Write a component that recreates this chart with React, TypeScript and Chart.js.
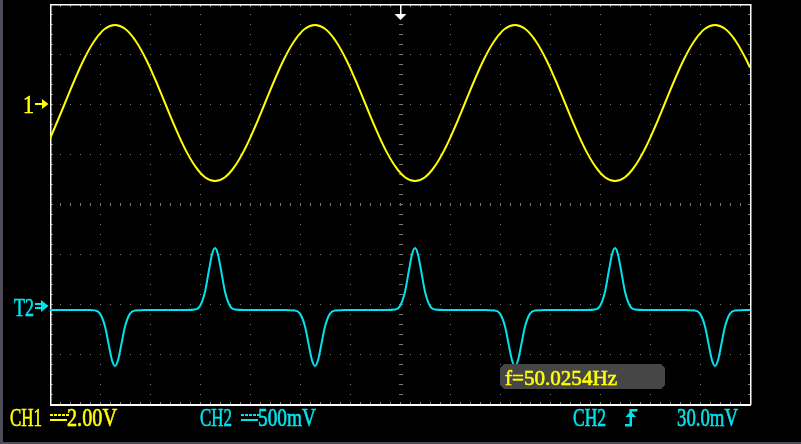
import React, { useEffect, useRef } from "react";
import { Chart, registerables } from "chart.js";

Chart.register(...registerables);

// CH1 (yellow) samples: time in ms, value in volts (2.00 V/div, 5 ms/div)
const ch1Time = [
  -35, -34.5, -33.5, -32.5, -31.5, -30.5, -29.5, -28.5, -27.5, -26.5, -25.5, -24.5, -23.5, -22.5, -21.5, -20.5, -19.5, -18.5, -17.5, -16.5, -15.5,
  -14.5, -13.5, -12.5, -11.5, -10.5, -9.5, -8.5, -7.5, -6.5, -5.5, -4.5, -3.5, -2.5, -1.5, -0.5, 0.5, 1.5, 2.5, 3.5, 4.5,
  5.5, 6.5, 7.5, 8.5, 9.5, 10.5, 11.5, 12.5, 13.5, 14.5, 15.5, 16.5, 17.5, 18.5, 19.5, 20.5, 21.5, 22.5, 23.5, 24.5,
  25.5, 26.5, 27.5, 28.5, 29.5, 30.5, 31.5, 32.5, 33.5, 34.5, 35,
];
const ch1Volts = [
  -1.38, -0.92, 0.04, 1.0, 1.87, 2.56, 3.01, 3.16, 3.01, 2.56, 1.87, 1.0, 0.04, -0.92, -1.79, -2.48, -2.93, -3.08, -2.93, -2.48, -1.79,
  -0.92, 0.04, 1.0, 1.87, 2.56, 3.01, 3.16, 3.01, 2.56, 1.87, 1.0, 0.04, -0.92, -1.79, -2.48, -2.93, -3.08, -2.93, -2.48, -1.79,
  -0.92, 0.04, 1.0, 1.87, 2.56, 3.01, 3.16, 3.01, 2.56, 1.87, 1.0, 0.04, -0.92, -1.79, -2.48, -2.93, -3.08, -2.93, -2.48, -1.79,
  -0.92, 0.04, 1.0, 1.87, 2.56, 3.01, 3.16, 3.01, 2.56, 1.87, 1.46,
];

// CH2 (cyan) samples: time in ms, value in millivolts (500 mV/div)
const ch2Time = [
  -35, -34, -33, -32, -31,
  -30.5, -30, -29.5, -29.1, -28.8, -28.5, -28.2, -27.9, -27.5, -27, -26.5,
  -25.5, -24.5, -23.5, -22.5, -21.5,
  -20.5, -20, -19.5, -19.1, -18.8, -18.5, -18.2, -17.9, -17.5, -17, -16.5,
  -15.5, -14.5, -13.5, -12.5, -11.5,
  -10.5, -10, -9.5, -9.1, -8.8, -8.5, -8.2, -7.9, -7.5, -7, -6.5,
  -5.5, -4.5, -3.5, -2.5, -1.5,
  -0.5, 0, 0.5, 0.9, 1.2, 1.5, 1.8, 2.1, 2.5, 3, 3.5,
  4.5, 5.5, 6.5, 7.5, 8.5,
  9.5, 10, 10.5, 10.9, 11.2, 11.5, 11.8, 12.1, 12.5, 13, 13.5,
  14.5, 15.5, 16.5, 17.5, 18.5,
  19.5, 20, 20.5, 20.9, 21.2, 21.5, 21.8, 22.1, 22.5, 23, 23.5,
  24.5, 25.5, 26.5, 27.5, 28.5,
  29.5, 30, 30.5, 30.9, 31.2, 31.5, 31.8, 32.1, 32.5, 33, 33.5,
  34.5, 35,
];
const ch2MilliVolts = [
  -40, -40, -40, -40, -40,
  -44, -76, -205, -401, -542, -600, -542, -401, -205, -76, -44,
  -40, -40, -40, -40, -40,
  -35, 0, 143, 360, 516, 580, 516, 360, 143, 0, -35,
  -40, -40, -40, -40, -40,
  -44, -76, -205, -401, -542, -600, -542, -401, -205, -76, -44,
  -40, -40, -40, -40, -40,
  -35, 0, 143, 360, 516, 580, 516, 360, 143, 0, -35,
  -40, -40, -40, -40, -40,
  -44, -76, -205, -401, -542, -600, -542, -401, -205, -76, -44,
  -40, -40, -40, -40, -40,
  -35, 0, 143, 360, 516, 580, 516, 360, 143, 0, -35,
  -40, -40, -40, -40, -40,
  -44, -76, -205, -401, -542, -600, -542, -401, -205, -76, -44,
  -40, -40,
];

const ch1Label = "CH1";
const ch1Scale = "2.00V";
const ch2Label = "CH2";
const ch2Scale = "500mV";
const trigSource = "CH2";
const trigLevel = "30.0mV";
const freqText = "f=50.0254Hz";

const CH1_VOLTS_PER_DIV = 2;
const CH1_OFFSET_DIV = 2;
const CH2_MV_PER_DIV = 500;
const CH2_OFFSET_DIV = -2.04;

const YELLOW = "#ffff00";
const CYAN = "#00e4ee";
const FONT = '"Liberation Serif", "DejaVu Serif", serif';

function fitText(ctx: CanvasRenderingContext2D, text: string, left: number, right: number, baseline: number, color: string, size: number) {
  ctx.save();
  ctx.font = `${size}px ${FONT}`;
  ctx.textAlign = "left";
  ctx.textBaseline = "alphabetic";
  const w = ctx.measureText(text).width;
  const sx = (right - left) / w;
  ctx.translate(left, baseline);
  ctx.scale(sx, 1);
  ctx.fillStyle = color;
  ctx.strokeStyle = color;
  ctx.lineWidth = 0.6;
  ctx.fillText(text, 0, 0);
  ctx.strokeText(text, 0, 0);
  ctx.restore();
}

const scopePlugin = {
  id: "scope",
  beforeDraw(chart: any) {
    const ctx: CanvasRenderingContext2D = chart.ctx;
    ctx.save();
    ctx.fillStyle = "#000000";
    ctx.fillRect(0, 0, chart.width, chart.height);
    ctx.fillStyle = "#4e4e5a";
    ctx.fillRect(0, 0, 3, chart.height);
    ctx.fillRect(0, chart.height - 2, chart.width, 2);
    ctx.restore();
  },
  beforeDatasetsDraw(chart: any) {
    const ctx: CanvasRenderingContext2D = chart.ctx;
    const { left, right, top, bottom } = chart.chartArea;
    const L = Math.round(left), R = Math.round(right), T = Math.round(top), B = Math.round(bottom);
    const cx = (L + R) / 2;
    const cy = (T + B) / 2;
    ctx.save();
    ctx.fillStyle = "#7a7a7a";
    for (let gx = L + 50; gx < R; gx += 50) {
      if (gx === cx) continue;
      for (let y = T + 10; y < B; y += 10) ctx.fillRect(gx, y, 1, 1);
    }
    for (let gy = T + 50; gy < B; gy += 50) {
      if (gy === cy) continue;
      for (let x = L + 10; x < R; x += 10) ctx.fillRect(x, gy, 1, 1);
    }
    for (let y = T + 10; y < B; y += 10) ctx.fillRect(cx - 1, y, 4, 1);
    for (let x = L + 10; x < R; x += 10) ctx.fillRect(x, cy - 1, 1, 3);
    for (let x = L + 10; x < R; x += 10) {
      ctx.fillRect(x, T + 1, 1, 2);
      ctx.fillRect(x, B - 2, 1, 2);
    }
    for (let y = T + 10; y < B; y += 10) {
      ctx.fillRect(L + 1, y, 2, 1);
      ctx.fillRect(R - 2, y, 2, 1);
    }
    ctx.fillStyle = "#ffffff";
    ctx.fillRect(L, T, R - L + 1, 1.5);
    ctx.fillRect(L, B, R - L + 1, 2);
    ctx.fillRect(L, T, 1.5, B - T + 1);
    ctx.fillRect(R, T, 1.5, B - T + 1);
    ctx.restore();
  },
  afterDatasetsDraw(chart: any) {
    const ctx: CanvasRenderingContext2D = chart.ctx;
    const { left, right, top } = chart.chartArea;
    const yS = chart.scales.y;
    const cx = Math.round((left + right) / 2);
    ctx.save();

    ctx.fillStyle = "#ffffff";
    ctx.fillRect(cx, top, 1.5, 10);
    ctx.beginPath();
    ctx.moveTo(cx - 5.5, top + 10);
    ctx.lineTo(cx + 6.5, top + 10);
    ctx.lineTo(cx + 0.5, top + 16);
    ctx.closePath();
    ctx.fill();

    const y1 = yS.getPixelForValue(CH1_OFFSET_DIV);
    fitText(ctx, "1", 23, 34, y1 + 9, YELLOW, 25);
    ctx.fillStyle = YELLOW;
    ctx.fillRect(35, y1 - 1, 9, 2);
    ctx.beginPath();
    ctx.moveTo(42, y1 - 5);
    ctx.lineTo(48.5, y1);
    ctx.lineTo(42, y1 + 5);
    ctx.closePath();
    ctx.fill();

    const y2 = yS.getPixelForValue(CH2_OFFSET_DIV);
    fitText(ctx, "T2", 14, 34, y2 + 10, CYAN, 26);
    ctx.fillStyle = CYAN;
    ctx.fillRect(35, y2 - 3, 8, 2);
    ctx.fillRect(35, y2 + 1, 8, 2);
    ctx.beginPath();
    ctx.moveTo(41, y2 - 6);
    ctx.lineTo(48.5, y2);
    ctx.lineTo(41, y2 + 6);
    ctx.closePath();
    ctx.fill();

    const bx0 = 500, bx1 = 665, by0 = 364, by1 = 389, c = 4;
    ctx.fillStyle = "#464646";
    ctx.beginPath();
    ctx.moveTo(bx0 + c, by0);
    ctx.lineTo(bx1 - c, by0);
    ctx.lineTo(bx1, by0 + c);
    ctx.lineTo(bx1, by1 - c);
    ctx.lineTo(bx1 - c, by1);
    ctx.lineTo(bx0 + c, by1);
    ctx.lineTo(bx0, by1 - c);
    ctx.lineTo(bx0, by0 + c);
    ctx.closePath();
    ctx.fill();
    fitText(ctx, freqText, 505, 617, 385, YELLOW, 22);

    const base = 426;
    fitText(ctx, ch1Label, 10, 42, base, YELLOW, 25);
    ctx.fillStyle = YELLOW;
    for (let x = 50; x < 67; x += 4) ctx.fillRect(x, 414, 3, 2);
    ctx.fillRect(50, 419, 17, 2);
    fitText(ctx, ch1Scale, 67, 117, base, YELLOW, 25);

    fitText(ctx, ch2Label, 200, 232, base, CYAN, 25);
    ctx.fillStyle = CYAN;
    for (let x = 241; x < 258; x += 4) ctx.fillRect(x, 414, 3, 2);
    ctx.fillRect(241, 419, 17, 2);
    fitText(ctx, ch2Scale, 258, 316, base, CYAN, 25);

    fitText(ctx, trigSource, 573, 606, base, CYAN, 25);
    ctx.fillStyle = CYAN;
    ctx.fillRect(625, 424, 7, 2.5);
    ctx.fillRect(629.5, 410, 2.5, 16);
    ctx.fillRect(629.5, 409, 8, 2.5);
    ctx.beginPath();
    ctx.moveTo(625.5, 417);
    ctx.lineTo(630.75, 411);
    ctx.lineTo(636, 417);
    ctx.closePath();
    ctx.fill();
    fitText(ctx, trigLevel, 677, 738, base, CYAN, 25);

    ctx.restore();
  },
};

export default function App() {
  const canvasRef = useRef<HTMLCanvasElement | null>(null);

  useEffect(() => {
    const canvas = canvasRef.current;
    if (!canvas) return;
    const ch1Points = ch1Time.map((t, i) => ({ x: t, y: ch1Volts[i] / CH1_VOLTS_PER_DIV + CH1_OFFSET_DIV }));
    const ch2Points = ch2Time.map((t, i) => ({ x: t, y: ch2MilliVolts[i] / CH2_MV_PER_DIV + CH2_OFFSET_DIV }));
    const chart = new Chart(canvas, {
      type: "line",
      data: {
        datasets: [
          {
            label: "CH1",
            data: ch1Points,
            borderColor: YELLOW,
            borderWidth: 2,
            pointRadius: 0,
            tension: 0.4,
            fill: false,
          },
          {
            label: "CH2",
            data: ch2Points,
            borderColor: CYAN,
            borderWidth: 2,
            pointRadius: 0,
            cubicInterpolationMode: "monotone",
            fill: false,
          },
        ],
      },
      options: {
        animation: false,
        responsive: false,
        devicePixelRatio: 1,
        layout: { padding: { left: 50, right: 51, top: 4, bottom: 40 } },
        scales: {
          x: { type: "linear", min: -35, max: 35, display: false },
          y: { type: "linear", min: -4, max: 4, display: false },
        },
        plugins: {
          legend: { display: false },
          tooltip: { enabled: false },
          title: { display: false },
        },
        events: [],
      },
      plugins: [scopePlugin],
    } as any);
    return () => chart.destroy();
  }, []);

  return (
    <div style={{ position: "absolute", left: 0, top: 0, width: 801, height: 444, background: "#000" }}>
      <canvas ref={canvasRef} width={801} height={444} style={{ display: "block", width: 801, height: 444 }} />
    </div>
  );
}
